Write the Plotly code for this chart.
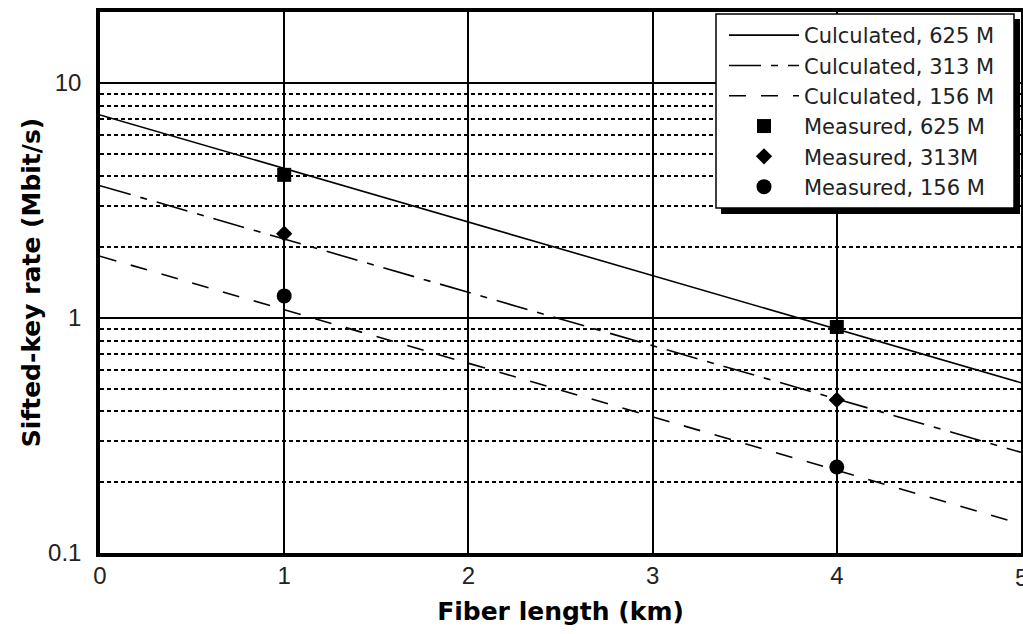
import plotly.graph_objects as go

# ---- data ----
calc_x = [0, 5]
calc_625 = [7.3, 0.53]
calc_313 = [3.65, 0.268]
calc_156 = [1.83, 0.133]

meas_x = [1, 4]
meas_625 = [4.06, 0.915]
meas_313 = [2.28, 0.448]
meas_156 = [1.24, 0.232]

x_ticks = [0, 1, 2, 3, 4, 5]
y_ticks = [0.1, 1, 10]
y_tick_text = ["0.1", "1", "10"]
y_minor = [0.2, 0.3, 0.4, 0.5, 0.6, 0.7, 0.8, 0.9, 2, 3, 4, 5, 6, 7, 8, 9]

TICKFONT = "Liberation Sans"
TEXTFONT = "DejaVu Sans"

fig = go.Figure()
fig.add_trace(go.Scatter(x=calc_x, y=calc_625, mode="lines", name="Culculated, 625 M",
                         line=dict(color="black", width=1.6)))
fig.add_trace(go.Scatter(x=calc_x, y=calc_313, mode="lines", name="Culculated, 313 M",
                         line=dict(color="black", width=1.6, dash="32px,10px,7px,10px")))
fig.add_trace(go.Scatter(x=calc_x, y=calc_156, mode="lines", name="Culculated, 156 M",
                         line=dict(color="black", width=1.6, dash="17px,15px")))
fig.add_trace(go.Scatter(x=meas_x, y=meas_625, mode="markers", name="Measured, 625 M",
                         marker=dict(symbol="square", size=14, color="black")))
fig.add_trace(go.Scatter(x=meas_x, y=meas_313, mode="markers", name="Measured, 313M",
                         marker=dict(symbol="diamond", size=12.5, color="black")))
fig.add_trace(go.Scatter(x=meas_x, y=meas_156, mode="markers", name="Measured, 156 M",
                         marker=dict(symbol="circle", size=15, color="black")))

# plot area in window pixels (page body margin removed below)
L, R, T, B = 100, 1021, 12, 553
W, H = R - L, B - T
FIG_W, FIG_H = 1023, 634
def xp(px):
    return (px - L) / W
def yp(py):
    return (B - py) / H

# legend box with shadow
fig.add_shape(type="rect", xref="paper", yref="paper", layer="above",
              x0=xp(721), x1=xp(1020), y0=yp(214), y1=yp(19),
              fillcolor="black", line=dict(width=0))
fig.add_shape(type="rect", xref="paper", yref="paper", layer="above",
              x0=xp(716), x1=xp(1014), y0=yp(208), y1=yp(14),
              fillcolor="white", line=dict(color="black", width=1.5))

# last x tick label sits on the figure edge (half visible, as in the reference)
fig.add_annotation(x=x_ticks[-1], xref="x", y=yp(577), yref="paper", text=str(x_ticks[-1]),
                   showarrow=False, xanchor="center", yanchor="middle",
                   font=dict(family=TICKFONT, size=24, color="#222"))

fig.update_layout(
    width=FIG_W, height=FIG_H,
    margin=dict(l=L, r=FIG_W - R, t=T, b=FIG_H - B, autoexpand=False),
    paper_bgcolor="white", plot_bgcolor="white",
    font=dict(family=TICKFONT, color="#222", size=24),
    legend=dict(x=xp(724), y=yp(15), xanchor="left", yanchor="top",
                bgcolor="rgba(0,0,0,0)", borderwidth=0, itemwidth=70,
                font=dict(family=TEXTFONT, size=21, color="#222"), tracegroupgap=0),
    showlegend=True,
)
fig.update_xaxes(
    range=[0, 5], tickvals=x_ticks[:-1], showgrid=True, gridcolor="black", gridwidth=1.5,
    showline=True, linecolor="black", linewidth=3.5, mirror=True, zeroline=False,
    ticks="", ticklabelstandoff=-2,
    tickfont=dict(family=TICKFONT, size=24, color="#222"),
    title=dict(text="<b>Fiber length (km)</b>", font=dict(family=TEXTFONT, size=25, color="black"), standoff=16),
)
fig.update_yaxes(
    type="log", range=[-1, 1.30103], tickvals=y_ticks, ticktext=y_tick_text,
    showgrid=True, gridcolor="black", gridwidth=1.5,
    minor=dict(tickvals=y_minor, showgrid=True, gridcolor="black", gridwidth=1.5, griddash="4px,3px"),
    showline=True, linecolor="black", linewidth=3.5, mirror=True, zeroline=False,
    ticks="", ticklabelstandoff=10,
    tickfont=dict(family=TICKFONT, size=24, color="#222"),
    title=dict(text="<b>Sifted-key rate (Mbit/s)</b>", font=dict(family=TEXTFONT, size=25, color="black"), standoff=1),
)

fig.write_html("out.html", config={"displayModeBar": False},
               post_script="document.body.style.margin='0';document.body.style.overflow='hidden';")
